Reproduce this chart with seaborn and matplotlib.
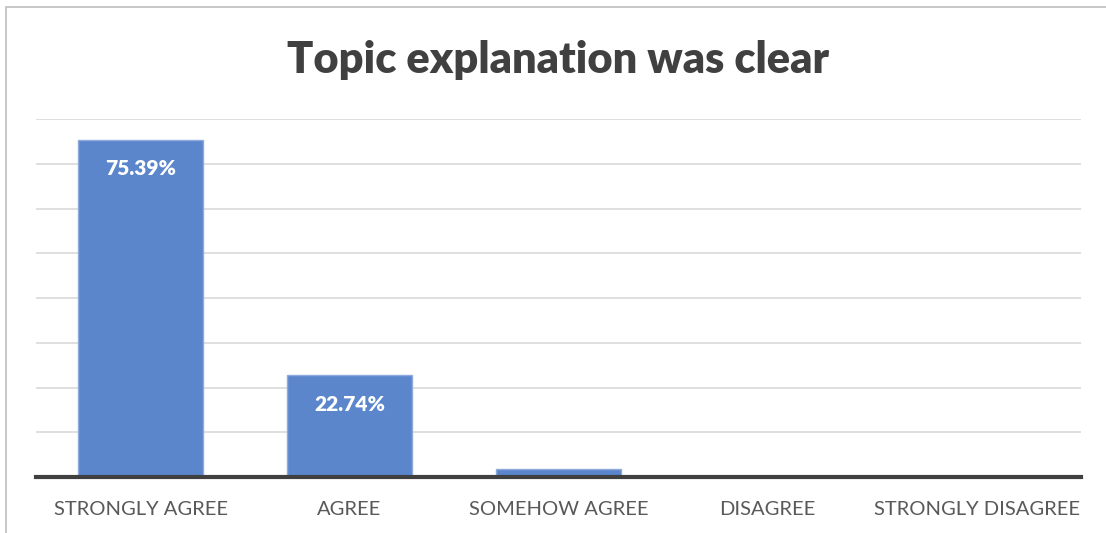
import matplotlib
matplotlib.use("Agg")
import matplotlib.pyplot as plt
import matplotlib.patches as mpatches
import seaborn as sns
import pandas as pd

categories = ["STRONGLY AGREE", "AGREE", "SOMEHOW AGREE", "DISAGREE", "STRONGLY DISAGREE"]
percentages = [75.39, 22.74, 1.87, 0.0, 0.0]
labelled = [True, True, False, False, False]

df = pd.DataFrame({"response": categories, "pct": percentages})

sns.set_theme(style="white")
plt.rcParams["font.family"] = ["Lato", "DejaVu Sans"]

W, H = 1106, 533
fig = plt.figure(figsize=(W / 100, H / 100), dpi=100)
ax = fig.add_axes([36 / W, 1 - 477 / H, (1081 - 36) / W, (477 - 119) / H])

sns.barplot(data=df, x="response", y="pct", ax=ax, color="#5b86cc",
            saturation=1, width=0.6, edgecolor="#8fabdc", linewidth=1, zorder=3)

ax.set_ylim(0, 80)
ax.set_xlim(-0.5, len(categories) - 0.5)
ax.set_yticks(range(0, 81, 10))
ax.yaxis.grid(True, color="#d9d9d9", linewidth=1.2, zorder=0)
ax.tick_params(axis="y", left=False, labelleft=False)
ax.tick_params(axis="x", bottom=False, labelsize=14.5, colors="#595959", pad=11)
ax.set_xlabel("")
ax.set_ylabel("")
for side in ["left", "right", "top"]:
    ax.spines[side].set_visible(False)
ax.spines["bottom"].set_color("#404040")
ax.spines["bottom"].set_linewidth(3)
ax.spines["bottom"].set_zorder(4)

for bar, val, show in zip(ax.patches, percentages, labelled):
    if show:
        ax.annotate(f"{val:.2f}%", (bar.get_x() + bar.get_width() / 2, bar.get_height()),
                    xytext=(0, -21), textcoords="offset points", ha="center", va="center",
                    color="white", fontsize=15, fontweight="heavy", zorder=5)

fig.text(0.5045, 1 - 60 / H, "Topic explanation was clear", ha="center", va="center",
         fontsize=31.2, fontweight="heavy", color="#404040")

# chart area border
fig.patches.append(mpatches.Rectangle((6 / W, -0.1), 1.2, 1 - 7 / H + 0.1,
                                      transform=fig.transFigure, fill=False,
                                      edgecolor="#bfbfbf", linewidth=1.2))

fig.savefig("out.png", dpi=100, facecolor="white")
